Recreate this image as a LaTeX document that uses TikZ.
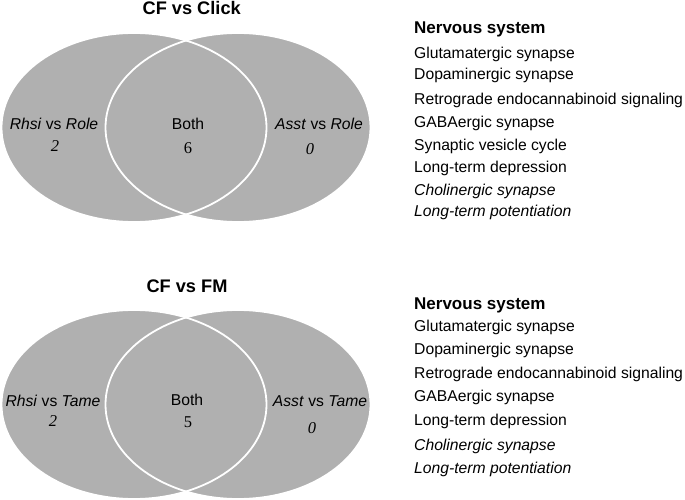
\documentclass[tikz,border=0pt]{standalone}
\usepackage{fontspec}
\setmainfont{Liberation Sans}
\newfontfamily\numfont{Liberation Serif}
\usetikzlibrary{positioning}
\tikzset{>=latex}
\definecolor{venngray}{gray}{0.69}
\newcommand{\itemfont}{\fontsize{15.7}{18}\selectfont}
\tikzset{
  vennfill/.style={fill=venngray},
  vennline/.style={draw=white, line width=1.8pt},
  venntitle/.style={anchor=base, inner sep=0pt, font=\fontsize{18.2}{20}\selectfont\bfseries},
  setlabel/.style={anchor=base, inner sep=0pt, font=\itemfont},
  setcount/.style={anchor=base, inner sep=0pt, font=\fontsize{16.5}{18}\selectfont\numfont},
  pathhead/.style={anchor=base west, inner sep=0pt, font=\fontsize{17}{19}\selectfont\bfseries},
  pathitem/.style={anchor=base west, inner sep=0pt, font=\itemfont}
}
\begin{document}
\begin{tikzpicture}[x=1pt, y=-1pt]
  \useasboundingbox (0,0) rectangle (685,500);
  % CF vs Click
  \fill[vennfill] (134,127.5) ellipse (132.5 and 94.5);
  \fill[vennfill] (238,127.5) ellipse (132.5 and 94.5);
  \draw[vennline] (134,127.5) ellipse (132.5 and 94.5);
  \draw[vennline] (238,127.5) ellipse (132.5 and 94.5);
  \node[venntitle] (t1) at (191.7,15) {CF vs Click};
  \node[setlabel] (l1) at (54,130) {\textit{Rhsi} vs \textit{Role}};
  \node[setcount] (l1n) at (55,151.7) {\textit{2}};
  \node[setlabel] (b1) at (188,130) {Both};
  \node[setcount] (b1n) at (188,153.3) {6};
  \node[setlabel] (r1) at (319,130) {\textit{Asst} vs \textit{Role}};
  \node[setcount] (r1n) at (310,154.3) {\textit{0}};
  \node[pathhead] (h1) at (414,33.5) {Nervous system};
  \node[pathitem, below=24.8pt of h1.base west, anchor=base west] (a1) {Glutamatergic synapse};
  \node[pathitem, below=21.7pt of a1.base west, anchor=base west] (a2) {Dopaminergic synapse};
  \node[pathitem, below=25pt of a2.base west, anchor=base west] (a3) {Retrograde endocannabinoid signaling};
  \node[pathitem, below=23pt of a3.base west, anchor=base west] (a4) {GABAergic synapse};
  \node[pathitem, below=22.7pt of a4.base west, anchor=base west] (a5) {Synaptic vesicle cycle};
  \node[pathitem, below=22pt of a5.base west, anchor=base west] (a6) {Long-term depression};
  \node[pathitem, below=22.3pt of a6.base west, anchor=base west] (a7) {\textit{Cholinergic synapse}};
  \node[pathitem, below=21.7pt of a7.base west, anchor=base west] (a8) {\textit{Long-term potentiation}};
  % CF vs FM
  \fill[vennfill] (134,404.5) ellipse (132.5 and 94.5);
  \fill[vennfill] (238,404.5) ellipse (132.5 and 94.5);
  \draw[vennline] (134,404.5) ellipse (132.5 and 94.5);
  \draw[vennline] (238,404.5) ellipse (132.5 and 94.5);
  \node[venntitle] (t2) at (187,292.7) {CF vs FM};
  \node[setlabel] (l2) at (53,406) {\textit{Rhsi} vs \textit{Tame}};
  \node[setcount] (l2n) at (53,426.7) {\textit{2}};
  \node[setlabel] (b2) at (187,405) {Both};
  \node[setcount] (b2n) at (188,427.7) {5};
  \node[setlabel] (r2) at (320,406) {\textit{Asst} vs \textit{Tame}};
  \node[setcount] (r2n) at (312,433.3) {\textit{0}};
  \node[pathhead] (h2) at (414,309.3) {Nervous system};
  \node[pathitem, below=22.4pt of h2.base west, anchor=base west] (c1) {Glutamatergic synapse};
  \node[pathitem, below=22.3pt of c1.base west, anchor=base west] (c2) {Dopaminergic synapse};
  \node[pathitem, below=24.3pt of c2.base west, anchor=base west] (c3) {Retrograde endocannabinoid signaling};
  \node[pathitem, below=23.4pt of c3.base west, anchor=base west] (c4) {GABAergic synapse};
  \node[pathitem, below=24pt of c4.base west, anchor=base west] (c5) {Long-term depression};
  \node[pathitem, below=25pt of c5.base west, anchor=base west] (c6) {\textit{Cholinergic synapse}};
  \node[pathitem, below=22.6pt of c6.base west, anchor=base west] (c7) {\textit{Long-term potentiation}};
\end{tikzpicture}
\end{document}
